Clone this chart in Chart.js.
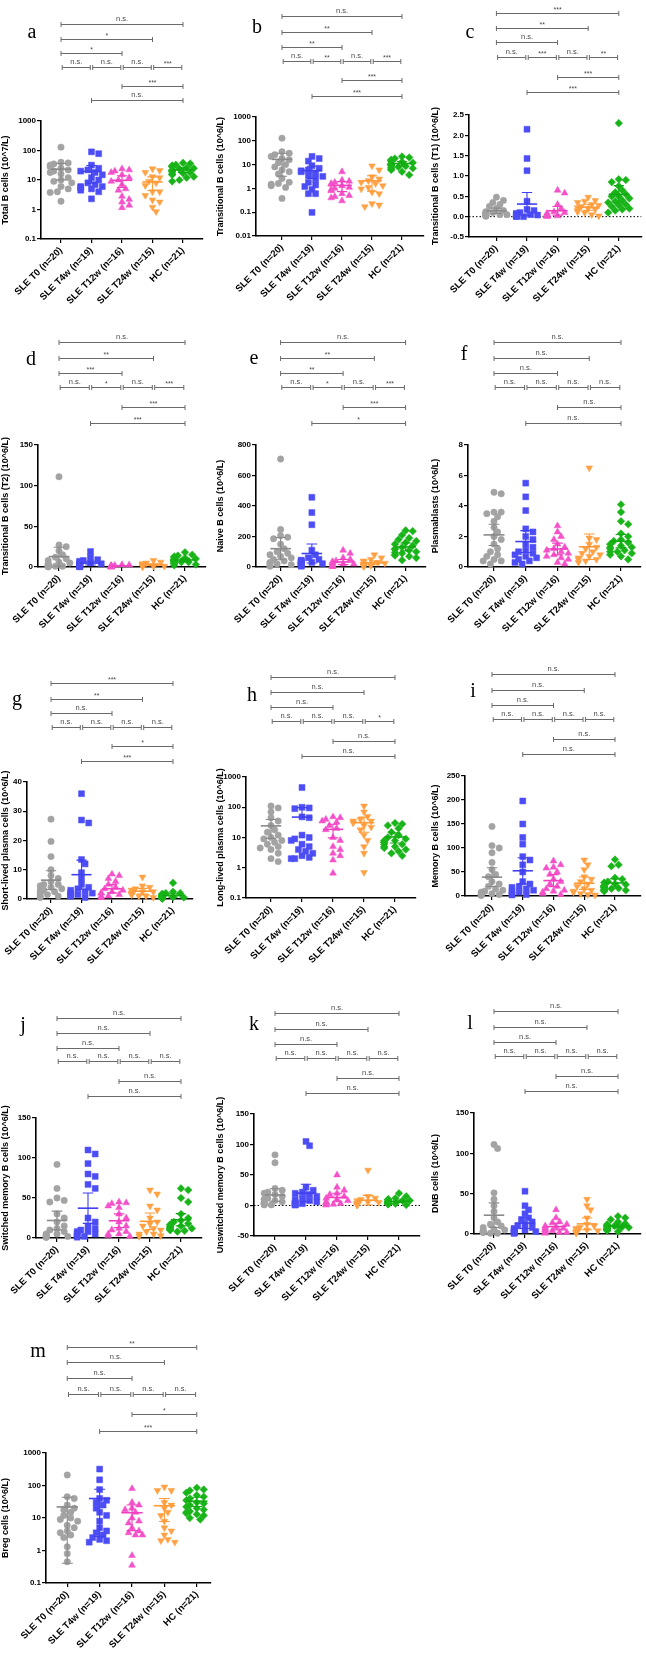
<!DOCTYPE html>
<html>
<head>
<meta charset="utf-8">
<script src="https://cdn.jsdelivr.net/npm/chart.js@4.4.1/dist/chart.umd.min.js"></script>
<style>
  body { margin: 0; background: #fff; }
  #wrap { position: relative; width: 646px; height: 1653px; overflow: hidden; }
  #wrap canvas { position: absolute; }
  .letter {
    position: absolute; font-family: "Liberation Serif", "DejaVu Serif", serif;
    font-size: 20px; line-height: 1; color: #000; transform: translate(-50%, -55%);
  }
</style>
</head>
<body>
<div id="wrap"></div>
<script>
// groups shared by every panel
const groups = ['SLE T0 (n=20)', 'SLE T4w (n=19)', 'SLE T12w (n=16)', 'SLE T24w (n=15)', 'HC (n=21)'];
const pointColors = ['#a3a3a3', '#4d4df5', '#f452c9', '#ffa144', '#19b419'];
const lineColors = ['#8a8a8a', '#4040f0', '#f040c0', '#ff9a38', '#10aa10'];

// values per group: T0, T4w, T12w, T24w, HC
const totalB = [
    [130, 40, 38, 35, 32, 28, 25, 22, 20, 18, 16, 12, 10, 9, 8, 6, 5, 4, 3.8, 1.9],
    [90, 78, 32, 25, 22, 20, 18, 15, 12, 10, 8, 7, 6, 6, 5.5, 5, 4.5, 4, 2.3],
    [24, 22, 20, 18, 15, 12, 10, 9, 7, 5, 4.5, 2.8, 2.2, 1.8, 1.4, 1.15],
    [24, 21, 18, 13, 12, 9, 8, 6.5, 4, 4, 3, 2.1, 1.8, 1.2, 0.85],
    [38, 36, 33, 31, 29, 28, 26, 25, 24, 22, 21, 20, 19, 18, 17, 16, 15, 13, 12, 10, 9]
];
const transB = [
    [129, 35, 30, 26, 22, 18, 16, 12, 10, 8, 6, 5, 4, 2.6, 1.8, 1.6, 1.5, 1.3, 1.1, 0.38],
    [22, 18, 14, 9, 7, 6, 5.5, 5, 4.3, 3.5, 3.2, 2.5, 1.8, 1.4, 1.2, 0.9, 0.6, 0.6, 0.098],
    [5, 2.2, 2, 1.8, 1.6, 1.5, 1.3, 1.1, 1, 0.9, 0.8, 0.6, 0.5, 0.45, 0.4, 0.3],
    [8.8, 6, 3.1, 2.5, 2.1, 1.8, 1.6, 1.3, 1.1, 0.95, 0.7, 0.6, 0.23, 0.2, 0.17],
    [22, 20, 18, 16, 15, 14, 13, 12, 11, 10.5, 10, 9.5, 9, 8.5, 8, 7.5, 7, 6.5, 6, 5, 3.7]
];
const transT1 = [
    [0.48, 0.4, 0.35, 0.3, 0.25, 0.2, 0.15, 0.12, 0.1, 0.1, 0.08, 0.07, 0.06, 0.05, 0.05, 0.04, 0.03, 0.03, 0.02, 0.01],
    [2.15, 1.43, 1.13, 0.38, 0.18, 0.15, 0.1, 0.08, 0.06, 0.05, 0.04, 0.03, 0.03, 0.02, 0.02, 0.01, 0.01, 0.01, 0],
    [0.65, 0.58, 0.3, 0.2, 0.12, 0.1, 0.08, 0.06, 0.05, 0.04, 0.03, 0.03, 0.02, 0.02, 0.01, 0.01],
    [0.48, 0.4, 0.38, 0.35, 0.3, 0.28, 0.25, 0.22, 0.2, 0.18, 0.15, 0.12, 0.1, 0.05, 0.02],
    [2.3, 0.92, 0.9, 0.85, 0.75, 0.65, 0.6, 0.55, 0.5, 0.5, 0.45, 0.4, 0.38, 0.35, 0.3, 0.28, 0.25, 0.2, 0.18, 0.15, 0.1]
];
const transT2 = [
    [111, 27, 25, 20, 15, 12, 10, 8, 6, 5, 4, 3, 2.5, 2, 1.5, 1, 1, 0.5, 0.5, 0.2],
    [19, 12, 9, 8, 7, 6, 5, 4, 4, 3, 3, 2.5, 2, 2, 1.5, 1, 1, 0.5, 0.3],
    [3, 2.5, 2, 1.8, 1.5, 1.2, 1, 1, 0.8, 0.6, 0.5, 0.4, 0.3, 0.2, 0.2, 0.1],
    [8, 6, 5, 4, 3.5, 3, 3, 2.5, 2, 2, 1.5, 1, 1, 0.5, 0.3],
    [18, 15, 14, 13, 12, 11, 10, 10, 9, 9, 8, 8, 7, 7, 6, 6, 5, 5, 4, 3, 2]
];
const naiveB = [
    [708, 246, 205, 195, 185, 150, 120, 100, 90, 80, 70, 60, 50, 40, 30, 25, 20, 15, 10, 5],
    [457, 357, 277, 110, 80, 60, 50, 45, 40, 35, 30, 28, 25, 22, 20, 15, 12, 10, 5],
    [110, 90, 60, 50, 40, 35, 30, 25, 20, 20, 15, 10, 10, 5, 5, 3],
    [80, 60, 50, 40, 35, 30, 25, 20, 15, 15, 10, 10, 8, 5, 3],
    [240, 235, 210, 190, 180, 170, 160, 150, 140, 130, 120, 115, 110, 100, 95, 90, 80, 75, 70, 60, 45]
];
const plasmablasts = [
    [4.9, 4.8, 3.6, 3.6, 3.5, 3.3, 3.0, 2.6, 2.3, 2.0, 1.8, 1.5, 1.2, 1.0, 0.8, 0.7, 0.5, 0.4, 0.4, 0.2],
    [5.5, 4.6, 3.7, 2.5, 2.3, 2.0, 1.8, 1.5, 1.3, 1.1, 1.0, 0.9, 0.8, 0.7, 0.6, 0.5, 0.4, 0.3, 0.2],
    [2.7, 2.3, 2.0, 1.8, 1.5, 1.3, 1.2, 1.1, 1.0, 0.9, 0.8, 0.7, 0.6, 0.5, 0.3, 0.2],
    [6.5, 1.9, 1.8, 1.5, 1.3, 1.2, 1.0, 0.9, 0.8, 0.7, 0.6, 0.5, 0.5, 0.4, 0.3],
    [4.1, 3.6, 3.0, 2.8, 2.2, 2.0, 1.8, 1.7, 1.6, 1.5, 1.4, 1.3, 1.3, 1.2, 1.1, 1.0, 1.0, 0.9, 0.8, 0.7, 0.5]
];
const shortPC = [
    [27.3, 19.7, 14.5, 10, 8, 7, 6, 5, 5, 4.5, 4, 3.5, 3, 3, 2.5, 2, 1.5, 1, 1, 0.5],
    [36, 27, 26, 13.5, 12, 9, 7, 5, 4, 3.5, 3, 2.5, 2, 2, 1.5, 1.5, 1, 1, 0.5],
    [8.5, 8, 7, 6, 5, 4, 3.5, 3, 2.5, 2, 2, 1.5, 1, 1, 0.5, 0.5],
    [7.5, 4.5, 4, 3.5, 3, 3, 2.5, 2.5, 2, 2, 1.5, 1.5, 1, 1, 0.5],
    [5.5, 2.5, 2, 2, 1.8, 1.5, 1.5, 1.2, 1, 1, 1, 0.8, 0.8, 0.6, 0.5, 0.5, 0.4, 0.3, 0.3, 0.2, 0.1]
];
const longPC = [
    [110, 95, 70, 45, 35, 25, 18, 15, 12, 10, 9, 8, 7, 6, 5, 4.5, 4, 3, 2, 1.6],
    [450, 100, 95, 90, 48, 45, 12, 10, 9, 8, 6, 5, 4, 3.5, 3, 2.5, 2.2, 2, 2],
    [48, 45, 40, 35, 32, 25, 20, 18, 10, 8, 5, 4, 3, 2.5, 1.8, 0.66],
    [110, 70, 50, 40, 35, 35, 30, 25, 22, 18, 12, 8, 5, 3, 0.7],
    [30, 28, 25, 20, 15, 12, 10, 9, 8, 8, 7, 7, 6, 6, 5, 5, 4.5, 4, 3.5, 3, 2.5]
];
const memoryB = [
    [145, 105, 100, 90, 70, 55, 45, 40, 30, 25, 20, 15, 12, 10, 8, 5, 5, 3, 2, 1],
    [198, 150, 122, 108, 82, 75, 65, 50, 30, 25, 20, 18, 15, 12, 10, 8, 5, 3, 2],
    [73, 65, 60, 58, 50, 45, 35, 30, 25, 20, 15, 12, 10, 8, 5, 3],
    [75, 65, 55, 40, 35, 30, 25, 20, 15, 12, 10, 8, 5, 3, 2],
    [76, 65, 62, 38, 35, 30, 28, 25, 24, 22, 20, 20, 18, 17, 16, 15, 14, 13, 12, 11, 10]
];
const switchedMB = [
    [92, 62, 50, 47, 45, 30, 25, 20, 15, 12, 10, 8, 5, 5, 3, 3, 2, 2, 1, 1],
    [110, 105, 93, 80, 77, 67, 62, 25, 20, 15, 12, 10, 8, 8, 5, 5, 3, 2, 1],
    [45, 44, 43, 40, 38, 30, 25, 20, 15, 12, 10, 8, 5, 5, 3, 2],
    [60, 55, 40, 35, 25, 20, 18, 15, 12, 10, 8, 5, 5, 3, 2],
    [62, 60, 50, 45, 30, 25, 22, 20, 18, 17, 16, 15, 14, 13, 12, 12, 11, 10, 10, 9, 8]
];
const unswitchedMB = [
    [83, 70, 28, 25, 22, 20, 18, 15, 12, 10, 10, 8, 6, 5, 4, 3, 2, 2, 1, 1],
    [105, 98, 30, 25, 22, 20, 18, 15, 12, 10, 8, 6, 5, 4, 3, 2, 2, 1, 1],
    [50, 30, 25, 20, 18, 15, 12, 10, 8, 6, 5, 4, 3, 2, 1, 1],
    [58, 15, 12, 10, 8, 6, 5, 4, 3, 3, 2, 2, 1, 1, 0.5],
    [20, 15, 12, 10, 10, 9, 8, 8, 7, 7, 6, 6, 5, 5, 4, 4, 3, 3, 2, 2, 1]
];
const dnbB = [
    [111, 106, 51, 43, 35, 28, 20, 15, 12, 10, 8, 6, 5, 4, 3, 3, 2, 2, 1, 1],
    [53, 35, 30, 25, 20, 18, 15, 12, 10, 8, 7, 6, 5, 4, 3, 2, 2, 1, 1],
    [30, 20, 15, 14, 12, 10, 9, 8, 7, 6, 5, 4, 3, 2, 2, 1],
    [43, 35, 30, 20, 12, 10, 8, 7, 6, 5, 4, 3, 2, 2, 1],
    [22, 20, 18, 15, 13, 12, 11, 10, 10, 9, 9, 8, 8, 7, 7, 6, 6, 5, 5, 4, 3]
];
const bregB = [
    [210, 45, 40, 25, 20, 18, 15, 12, 10, 9, 8, 6, 5, 4, 3.5, 3, 2.5, 1.3, 0.8, 0.45],
    [320, 150, 75, 40, 35, 30, 25, 20, 15, 12, 8, 5, 4, 3.5, 3, 2.5, 2.2, 2, 1.8],
    [80, 30, 25, 20, 18, 15, 10, 8, 7, 5, 4, 3.5, 3, 3, 0.7, 0.35],
    [90, 70, 70, 30, 25, 20, 15, 12, 8, 5, 4, 3, 2.2, 2, 1.8],
    [85, 75, 70, 60, 50, 45, 40, 35, 30, 28, 25, 22, 20, 18, 16, 15, 14, 13, 12, 10, 9]
];

// significance labels, in the order of the pairs below
const pairs = [[0, 4], [0, 3], [0, 2], [0, 1], [1, 2], [2, 3], [3, 4], [2, 4], [1, 4]];
const pairRow = [0, 1, 2, 3, 3, 3, 3, 4, 5];
const NS = 'n.s.';
const allNs = [NS, NS, NS, NS, NS, NS, NS, NS, NS];
const totalBSig = [NS, '*', '*', NS, NS, NS, '***', '***', NS];
const transBSig = [NS, '**', '**', NS, '**', NS, '***', '***', '***'];
const transT1Sig = ['***', '**', NS, NS, '***', NS, '**', '***', '***'];
const transT2Sig = [NS, '**', '***', NS, '*', NS, '***', '***', '***'];
const naiveBSig = [NS, '**', '**', NS, '*', NS, '***', '***', '*'];
const shortPCSig = ['***', '**', NS, NS, NS, NS, NS, '*', '***'];
const longPCSig = [NS, NS, NS, NS, NS, NS, '*', NS, NS];
const bregBSig = ['**', NS, NS, NS, NS, NS, NS, '*', '***'];

// y tick sets
const decades3 = [0.1, 1, 10, 100, 1000];
const decades4 = [0.01, 0.1, 1, 10, 100, 1000];
const t1Ticks = [-0.5, 0, 0.5, 1, 1.5, 2, 2.5];
const ticks150 = [0, 50, 100, 150];
const naiveTicks = [0, 200, 400, 600, 800];
const plasmaTicks = [0, 2, 4, 6, 8];
const shortTicks = [0, 10, 20, 30, 40];
const memoryTicks = [0, 50, 100, 150, 200, 250];
const unswitchedTicks = [-50, 0, 50, 100, 150];

const panels = [
    { letter: 'a', col: 0, canvasTop: 0, data: totalB, sig: totalBSig, title: 'Total B cells (10^7/L)', log: true, yMin: 0.1, yMax: 1000, yTicks: decades3,
      axisX: 41, c0: 61, c4: 183, axisEnd: 203, top: 121, bottom: 239, brackets: [24, 39, 53, 67, 86, 100], pos: [32, 32] },
    { letter: 'b', col: 1, canvasTop: 0, data: transB, sig: transBSig, title: 'Transitional B cells (10^6/L)', log: true, yMin: 0.01, yMax: 1000, yTicks: decades4,
      axisX: 256, c0: 282, c4: 402, axisEnd: 424, top: 117, bottom: 236, brackets: [16, 32, 47, 61, 80, 96], pos: [257, 27] },
    { letter: 'c', col: 2, canvasTop: 0, data: transT1, sig: transT1Sig, title: 'Transitional B cells (T1) (10^6/L)', log: false, yMin: -0.5, yMax: 2.5, yTicks: t1Ticks, dec: true, zero: true,
      axisX: 469, c0: 497, c4: 622, axisEnd: 645, top: 115, bottom: 237, brackets: [13, 28, 42, 57, 77, 92], pos: [470, 32] },
    { letter: 'd', col: 0, canvasTop: 325, data: transT2, sig: transT2Sig, title: 'Transitional B cells (T2) (10^6/L)', log: false, yMin: 0, yMax: 150, yTicks: ticks150,
      axisX: 38, c0: 59, c4: 185, axisEnd: 206, top: 445, bottom: 567, brackets: [342, 358, 373, 387, 407, 423], pos: [31, 359] },
    { letter: 'e', col: 1, canvasTop: 325, data: naiveB, sig: naiveBSig, title: 'Naive B cells (10^6/L)', log: false, yMin: 0, yMax: 800, yTicks: naiveTicks,
      axisX: 256, c0: 281, c4: 408, axisEnd: 428, top: 445, bottom: 567, brackets: [342, 358, 373, 387, 407, 423], pos: [254, 358] },
    { letter: 'f', col: 2, canvasTop: 325, data: plasmablasts, sig: allNs, title: 'Plasmablasts (10^6/L)', log: false, yMin: 0, yMax: 8, yTicks: plasmaTicks,
      axisX: 468, c0: 494, c4: 621, axisEnd: 641, top: 445, bottom: 567, brackets: [342, 358, 373, 387, 407, 423], pos: [464, 354] },
    { letter: 'g', col: 0, canvasTop: 655, data: shortPC, sig: shortPCSig, title: 'Short-lived plasma cells (10^6/L)', log: false, yMin: 0, yMax: 40, yTicks: shortTicks,
      axisX: 27, c0: 51, c4: 173, axisEnd: 193, top: 782, bottom: 899, brackets: [683, 699, 713, 727, 746, 761], pos: [17, 699] },
    { letter: 'h', col: 1, canvasTop: 655, data: longPC, sig: longPCSig, title: 'Long-lived plasma cells (10^6/L)', log: true, yMin: 0.1, yMax: 1000, yTicks: decades3,
      axisX: 246, c0: 271, c4: 395, axisEnd: 416, top: 777, bottom: 898, brackets: [677, 692, 707, 721, 741, 756], pos: [252, 695] },
    { letter: 'i', col: 2, canvasTop: 655, data: memoryB, sig: allNs, title: 'Memory B cells (10^6/L)', log: false, yMin: 0, yMax: 250, yTicks: memoryTicks,
      axisX: 465, c0: 492, c4: 615, axisEnd: 641, top: 776, bottom: 896, brackets: [674, 690, 705, 719, 739, 754], pos: [473, 691] },
    { letter: 'j', col: 0, canvasTop: 995, data: switchedMB, sig: allNs, title: 'Switched memory B cells (10^6/L)', log: false, yMin: 0, yMax: 150, yTicks: ticks150,
      axisX: 36, c0: 57, c4: 181, axisEnd: 202, top: 1118, bottom: 1238, brackets: [1018, 1033, 1048, 1061, 1081, 1096], pos: [23, 1025] },
    { letter: 'k', col: 1, canvasTop: 995, data: unswitchedMB, sig: allNs, title: 'Unswitched memory B cells (10^6/L)', log: false, yMin: -50, yMax: 150, yTicks: unswitchedTicks, zero: true,
      axisX: 254, c0: 275, c4: 399, axisEnd: 420, top: 1114, bottom: 1236, brackets: [1013, 1029, 1044, 1058, 1078, 1093], pos: [254, 1024] },
    { letter: 'l', col: 2, canvasTop: 995, data: dnbB, sig: allNs, title: 'DNB cells (10^6/L)', log: false, yMin: 0, yMax: 150, yTicks: ticks150,
      axisX: 474, c0: 494, c4: 618, axisEnd: 641, top: 1113, bottom: 1234, brackets: [1011, 1027, 1042, 1056, 1076, 1091], pos: [470, 1023] },
    { letter: 'm', col: 0, canvasTop: 1325, data: bregB, sig: bregBSig, title: 'Breg cells (10^6/L)', log: true, yMin: 0.1, yMax: 1000, yTicks: decades3,
      axisX: 46, c0: 68, c4: 202, axisEnd: 216, top: 1453, bottom: 1583, brackets: [1347, 1362, 1378, 1394, 1414, 1431], pos: [38, 1351] }
];

const markers = [
    { style: 'circle', r: 3.2, rot: 0 },
    { style: 'rect', r: 4.2, rot: 0 },
    { style: 'triangle', r: 3.9, rot: 0 },
    { style: 'triangle', r: 3.9, rot: 180 },
    { style: 'rectRot', r: 3.8, rot: 0 }
];
const tCrit = { 14: 2.145, 15: 2.131, 18: 2.101, 19: 2.093, 20: 2.086 };
const sansFont = '"Liberation Sans", Arial, sans-serif';
const colLeft = [0, 215, 430];
const colWidth = [215, 215, 216];

function meanCI(vals) {
    const n = vals.length;
    const m = vals.reduce((a, b) => a + b, 0) / n;
    const sd = Math.sqrt(vals.reduce((a, v) => a + (v - m) * (v - m), 0) / (n - 1));
    return [m, (tCrit[n - 1] || 2.1) * sd / Math.sqrt(n)];
}

// spread overlapping dots sideways, like a scatter dot plot
function spread(vals, p, spacing) {
    const H = p.bottom - p.top;
    const f = v => p.log ? Math.log10(v) : v;
    const lo = f(p.yMin), hi = f(p.yMax);
    const d = 6;
    const order = vals.map((v, i) => i).sort((a, b) => vals[b] - vals[a]);
    const placed = [];
    const out = new Array(vals.length).fill(0);
    order.forEach(i => {
        const yy = (f(vals[i]) - lo) / (hi - lo) * H;
        let best = 0;
        for (let k = 0; k < 16; k++) {
            const dx = (k % 2 ? 1 : -1) * Math.ceil(k / 2) * d * 0.6;
            if (Math.abs(dx) > spacing * 0.42) break;
            const hit = placed.some(q => (q.x - dx) ** 2 + (q.y - yy) ** 2 < (d * 0.9) ** 2);
            best = dx;
            if (!hit) break;
        }
        placed.push({ x: best, y: yy });
        out[i] = best / spacing;
    });
    return out;
}

function overlay(p, canvasTop) {
    return {
        id: 'overlay',
        beforeDatasetsDraw(chart) {
            if (!p.zero) return;
            const { ctx, chartArea, scales: { y } } = chart;
            const y0 = y.getPixelForValue(0);
            ctx.save();
            ctx.strokeStyle = '#000';
            ctx.lineWidth = 1;
            ctx.setLineDash([1.5, 2]);
            ctx.beginPath();
            ctx.moveTo(chartArea.left, y0);
            ctx.lineTo(chartArea.right, y0);
            ctx.stroke();
            ctx.restore();
        },
        afterDatasetsDraw(chart) {
            const { ctx, scales: { x, y } } = chart;
            ctx.save();
            // mean with 95% CI
            p.data.forEach((vals, g) => {
                const [m, ci] = meanCI(vals);
                const ym = y.getPixelForValue(m);
                const yTop = y.getPixelForValue(Math.min(m + ci, p.yMax));
                const lowVal = m - ci;
                const hasLow = !(p.log && lowVal <= 0);
                const yLow = y.getPixelForValue(Math.max(lowVal, p.yMin));
                ctx.strokeStyle = lineColors[g];
                ctx.lineWidth = 1.6;
                ctx.beginPath();
                ctx.moveTo(x.getPixelForValue(g - 0.33), ym);
                ctx.lineTo(x.getPixelForValue(g + 0.33), ym);
                ctx.stroke();
                ctx.lineWidth = 1.1;
                const xc = x.getPixelForValue(g);
                const c1 = x.getPixelForValue(g - 0.17), c2 = x.getPixelForValue(g + 0.17);
                ctx.beginPath();
                ctx.moveTo(xc, yTop);
                ctx.lineTo(xc, hasLow ? yLow : ym);
                ctx.moveTo(c1, yTop);
                ctx.lineTo(c2, yTop);
                if (hasLow && lowVal > p.yMin) {
                    ctx.moveTo(c1, yLow);
                    ctx.lineTo(c2, yLow);
                }
                ctx.stroke();
            });
            // comparison brackets
            ctx.strokeStyle = '#6a6a6a';
            ctx.fillStyle = '#4a4a4a';
            ctx.lineWidth = 1;
            ctx.textAlign = 'center';
            ctx.textBaseline = 'alphabetic';
            pairs.forEach(([i, j], k) => {
                const row = pairRow[k];
                const yy = p.brackets[row] - canvasTop + 0.5;
                let x1 = x.getPixelForValue(i), x2 = x.getPixelForValue(j);
                if (row === 3) { x1 += 1.2; x2 -= 1.2; }
                ctx.beginPath();
                ctx.moveTo(x1, yy); ctx.lineTo(x2, yy);
                ctx.moveTo(x1, yy - 2.5); ctx.lineTo(x1, yy + 2.5);
                ctx.moveTo(x2, yy - 2.5); ctx.lineTo(x2, yy + 2.5);
                ctx.stroke();
                const label = p.sig[k];
                if (label === NS) {
                    ctx.font = '7.5px ' + sansFont;
                    ctx.fillText(label, (x1 + x2) / 2, yy - 4);
                } else {
                    ctx.font = '7px ' + sansFont;
                    ctx.fillText(label, (x1 + x2) / 2, yy - 2);
                }
            });
            ctx.restore();
        }
    };
}

const wrap = document.getElementById('wrap');

panels.forEach(p => {
    const left = colLeft[p.col];
    const width = colWidth[p.col];
    const height = Math.min(p.bottom + 80, 1653) - p.canvasTop;
    const canvas = document.createElement('canvas');
    canvas.width = width;
    canvas.height = height;
    canvas.style.left = left + 'px';
    canvas.style.top = p.canvasTop + 'px';
    canvas.style.width = width + 'px';
    canvas.style.height = height + 'px';
    wrap.appendChild(canvas);

    const letter = document.createElement('div');
    letter.className = 'letter';
    letter.textContent = p.letter;
    letter.style.left = p.pos[0] + 'px';
    letter.style.top = p.pos[1] + 'px';
    wrap.appendChild(letter);

    const s = (p.c4 - p.c0) / 4;
    const xmin = -(p.c0 - p.axisX) / s;
    const xmax = 4 + (p.axisEnd - p.c4) / s;

    const datasets = p.data.map((vals, g) => {
        const offs = spread(vals, p, s);
        return {
            data: vals.map((v, i) => ({ x: g + offs[i], y: v })),
            pointStyle: markers[g].style,
            pointRadius: markers[g].r,
            pointRotation: markers[g].rot,
            pointBackgroundColor: pointColors[g],
            pointBorderColor: pointColors[g],
            pointBorderWidth: 0.5,
            showLine: false,
            clip: false
        };
    });

    const axisBottomHeight = height - (p.bottom - p.canvasTop);

    new Chart(canvas, {
        type: 'scatter',
        data: { datasets: datasets },
        options: {
            responsive: false,
            animation: false,
            events: [],
            layout: { padding: { top: p.top - p.canvasTop, right: left + width - p.axisEnd, left: 0, bottom: 0 } },
            plugins: { legend: { display: false }, tooltip: { enabled: false } },
            scales: {
                x: {
                    type: 'linear',
                    min: xmin,
                    max: xmax,
                    afterBuildTicks: sc => { sc.ticks = [0, 1, 2, 3, 4].map(v => ({ value: v })); },
                    afterFit: sc => { sc.height = axisBottomHeight; },
                    ticks: {
                        autoSkip: false, minRotation: 45, maxRotation: 45, padding: 2, color: '#000',
                        font: { family: sansFont, size: 9.5, weight: 'bold' },
                        callback: v => groups[v]
                    },
                    grid: { drawOnChartArea: false, tickLength: 4, color: '#000', lineWidth: 1.2 },
                    border: { color: '#000', width: 1.6 }
                },
                y: {
                    type: p.log ? 'logarithmic' : 'linear',
                    min: p.yMin,
                    max: p.yMax,
                    afterBuildTicks: sc => { sc.ticks = p.yTicks.map(v => ({ value: v })); },
                    afterFit: sc => { sc.width = p.axisX - left; },
                    ticks: {
                        padding: 1, color: '#000',
                        font: { family: sansFont, size: 8, weight: 'bold' },
                        callback: v => p.dec ? v.toFixed(1) : String(v)
                    },
                    grid: { drawOnChartArea: false, tickLength: 4, color: '#000', lineWidth: 1.2 },
                    border: { color: '#000', width: 1.6 },
                    title: {
                        display: true, text: p.title, color: '#000',
                        font: { family: sansFont, size: 9, weight: 'bold' },
                        padding: { top: 0, bottom: 1 }
                    }
                }
            }
        },
        plugins: [overlay(p, p.canvasTop)]
    });
});
</script>
</body>
</html>
